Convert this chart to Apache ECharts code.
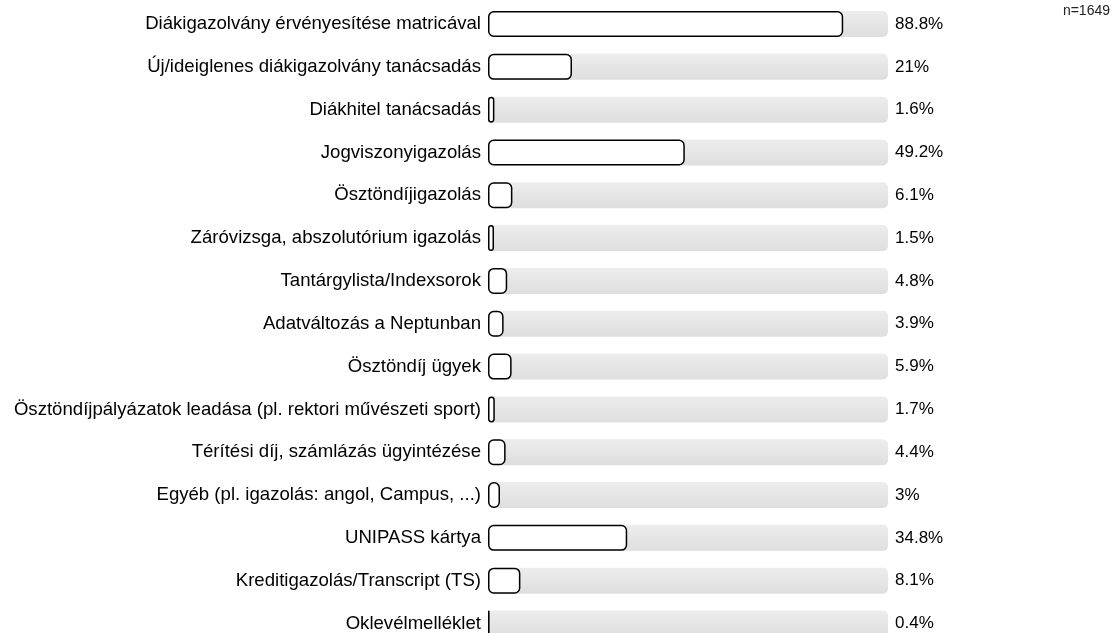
<!DOCTYPE html>
<html>
<head>
<meta charset="utf-8">
<script src="https://cdn.jsdelivr.net/npm/echarts@6/dist/echarts.min.js"></script>
<style>
  html, body { margin: 0; padding: 0; background: #fff; }
  #chart { width: 1117px; height: 633px; }
</style>
</head>
<body>
<div id="chart"></div>
<script>
// categories, top to bottom
const categories = [
    'Diákigazolvány érvényesítése matricával',
    'Új/ideiglenes diákigazolvány tanácsadás',
    'Diákhitel tanácsadás',
    'Jogviszonyigazolás',
    'Ösztöndíjigazolás',
    'Záróvizsga, abszolutórium igazolás',
    'Tantárgylista/Indexsorok',
    'Adatváltozás a Neptunban',
    'Ösztöndíj ügyek',
    'Ösztöndíjpályázatok leadása (pl. rektori művészeti sport)',
    'Térítési díj, számlázás ügyintézése',
    'Egyéb (pl. igazolás: angol, Campus, ...)',
    'UNIPASS kártya',
    'Kreditigazolás/Transcript (TS)',
    'Oklevélmelléklet'
];
const values = [88.8, 21, 1.6, 49.2, 6.1, 1.5, 4.8, 3.9, 5.9, 1.7, 4.4, 3, 34.8, 8.1, 0.4];
const fullScale = categories.map(() => 100);
const sampleNote = 'n=1649';

const chart = echarts.init(document.getElementById('chart'), null, { renderer: 'canvas' });

const option = {
    animation: false,
    grid: {
        left: 488,
        width: 400,
        top: 24,
        height: 600
    },
    xAxis: {
        type: 'value',
        min: 0,
        max: 100,
        show: false
    },
    yAxis: {
        type: 'category',
        data: categories,
        inverse: true,
        boundaryGap: false,
        axisLine: { show: false },
        axisTick: { show: false },
        splitLine: { show: false },
        axisLabel: {
            margin: 7,
            fontFamily: 'Liberation Sans, Arial, sans-serif',
            fontSize: 18.6,
            color: '#000'
        }
    },
    graphic: [{
        type: 'text',
        right: 7,
        top: 4,
        style: {
            text: sampleNote,
            fontFamily: 'Liberation Sans, Arial, sans-serif',
            fontSize: 14,
            fill: '#222'
        }
    }],
    series: [
        {
            // grey track, carries the value labels
            type: 'bar',
            data: fullScale,
            barWidth: 26,
            silent: true,
            itemStyle: {
                borderRadius: 5,
                color: new echarts.graphic.LinearGradient(0, 0, 0, 1, [
                    { offset: 0, color: '#ededed' },
                    { offset: 1, color: '#dedede' }
                ])
            },
            label: {
                show: true,
                position: 'right',
                distance: 7,
                fontFamily: 'Liberation Sans, Arial, sans-serif',
                fontSize: 17,
                color: '#000',
                formatter: p => values[p.dataIndex] + '%'
            }
        },
        {
            type: 'bar',
            data: values,
            barWidth: 26,
            barGap: '-100%',
            itemStyle: {
                color: '#fff',
                borderColor: '#000',
                borderWidth: 1.5,
                borderRadius: 5
            }
        }
    ]
};

chart.setOption(option);
</script>
</body>
</html>
